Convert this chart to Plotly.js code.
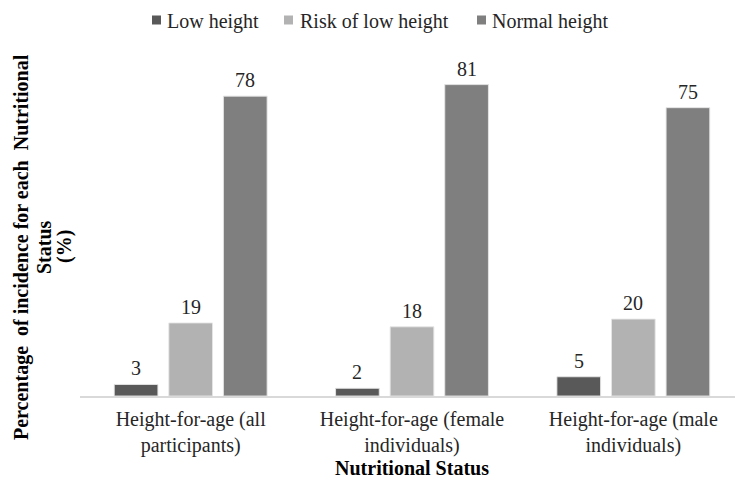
<!DOCTYPE html>
<html>
<head>
<meta charset="utf-8">
<script src="https://cdn.plot.ly/plotly-3.0.1.min.js"></script>
<style>
  html, body { margin: 0; padding: 0; background: #fff; overflow: hidden; }
  #wrap { width: 735px; height: 479px; overflow: hidden; }
  #chart { width: 745px; height: 479px; }
</style>
</head>
<body>
<div id="wrap"><div id="chart"></div></div>
<script>
// Height-for-age groups on the x axis
const categories = [
  "Height-for-age (all<br>participants)",
  "Height-for-age (female<br>individuals)",
  "Height-for-age (male<br>individuals)"
];

// Percentage of incidence per nutritional status
const lowHeight = [3, 2, 5];
const riskOfLowHeight = [19, 18, 20];
const normalHeight = [78, 81, 75];

const seriesNames = ["Low height", "Risk of low height", "Normal height"];
const seriesColors = ["#595959", "#b2b2b2", "#7f7f7f"];
const seriesValues = [lowHeight, riskOfLowHeight, normalHeight];

const serif = "Liberation Serif";
const textColor = "#262626";

// plot box in pixels (used to place legend and side title)
const W = 745, H = 479;
const M = { l: 80, r: 1, t: 50, b: 83 };
const plotW = W - M.l - M.r, plotH = H - M.t - M.b;
const px = x => (x - M.l) / plotW;
const py = y => (H - M.b - y) / plotH;

const bargap = 0.26;
const slot = (1 - bargap) / seriesValues.length;

const traces = seriesValues.map((vals, i) => ({
  type: "bar",
  name: seriesNames[i],
  x: categories,
  y: vals,
  marker: { color: seriesColors[i], line: { color: "rgba(230,230,230,0.9)", width: 1 } },
  showlegend: false,
  hoverinfo: "skip"
}));

// value labels above each bar
const valueLabels = [];
seriesValues.forEach((vals, i) => {
  vals.forEach((v, j) => {
    valueLabels.push({
      x: j + (i - 1) * slot, y: v,
      xref: "x", yref: "y",
      text: String(v),
      showarrow: false,
      yanchor: "bottom",
      yshift: 3,
      font: { family: serif, size: 20, color: textColor }
    });
  });
});

// legend row: small square swatch followed by the series name
const legendX = [[152, 165], [284, 298], [477, 490]];
const legendShapes = seriesNames.map((n, i) => ({
  type: "rect", xref: "paper", yref: "paper",
  x0: px(legendX[i][0]), x1: px(legendX[i][0] + 9),
  y0: py(24.5), y1: py(15.5),
  fillcolor: seriesColors[i], line: { width: 0 }
}));
const legendText = seriesNames.map((n, i) => ({
  text: n, xref: "paper", yref: "paper",
  x: px(legendX[i][1]), y: py(21),
  xanchor: "left", yanchor: "middle",
  showarrow: false,
  font: { family: serif, size: 20, color: textColor }
}));

// rotated y-axis title, one annotation per line
const yTitleLines = ["Percentage  of incidence for each  Nutritional", "Status", "(%)"];
const yTitleX = [21, 44, 64];
const yTitle = yTitleLines.map((t, i) => ({
  text: "<b>" + t + "</b>",
  xref: "paper", yref: "paper",
  x: px(yTitleX[i]), y: py(247),
  xanchor: "center", yanchor: "middle",
  textangle: -90,
  showarrow: false,
  font: { family: serif, size: 20, color: "#000" }
}));

const layout = {
  width: W,
  height: H,
  margin: M,
  paper_bgcolor: "#ffffff",
  plot_bgcolor: "#ffffff",
  barmode: "group",
  bargap: bargap,
  bargroupgap: 0.2,
  showlegend: false,
  xaxis: {
    type: "category",
    showline: true,
    linecolor: "#d9d9d9",
    linewidth: 1.5,
    ticks: "",
    ticklabelstandoff: 4,
    showgrid: false,
    zeroline: false,
    tickfont: { family: serif, size: 20, color: textColor },
    title: {
      text: "<b>Nutritional Status</b>",
      font: { family: serif, size: 20, color: "#000" },
      standoff: 2
    }
  },
  yaxis: {
    range: [0, 90],
    showline: false,
    showticklabels: false,
    ticks: "",
    showgrid: false,
    zeroline: false
  },
  shapes: legendShapes,
  annotations: valueLabels.concat(legendText, yTitle)
};

Plotly.newPlot("chart", traces, layout, { displayModeBar: false, staticPlot: true });
</script>
</body>
</html>
